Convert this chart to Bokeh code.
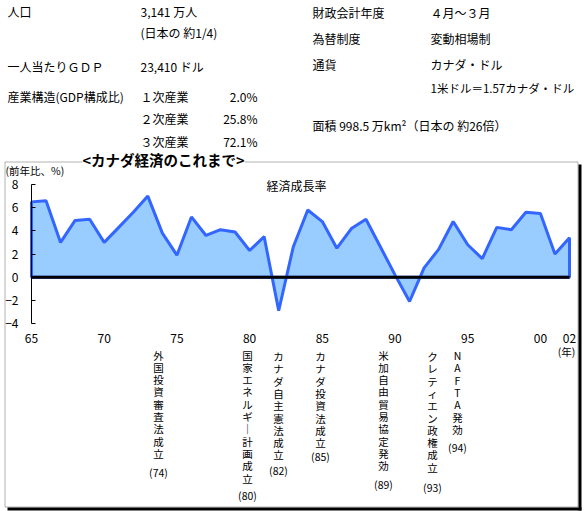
from bokeh.plotting import figure
from bokeh.models import Label, BoxAnnotation, FixedTicker, LinearAxis, Range1d
from bokeh.embed import file_html
from bokeh.resources import INLINE

# ---------------- data ----------------
years = list(range(1965, 2003))
growth = [6.5, 6.6, 3.0, 4.9, 5.0,
          3.0, 4.3, 5.6, 7.0, 3.8,
          1.9, 5.2, 3.6, 4.1, 3.9,
          2.3, 3.5, -2.9, 2.6, 5.8,
          4.8, 2.5, 4.2, 5.0, 2.6,
          0.2, -2.1, 0.8, 2.4, 4.8,
          2.8, 1.6, 4.3, 4.1, 5.6,
          5.5, 2.0, 3.4]
y_ticks = [-4, -2, 0, 2, 4, 6, 8]
x_ticks = [1965, 1970, 1975, 1980, 1985, 1990, 1995, 2000, 2002]
x_tick_labels = ["65", "70", "75", "80", "85", "90", "95", "00", "02"]

events = ["外国投資審査法成立", "国家エネルギ｜計画成立", "カナダ自主憲法成立",
          "カナダ投資法成立", "米加自由貿易協定発効", "クレティエン政権成立",
          "NAFTA発効"]
event_years = ["(74)", "(80)", "(82)", "(85)", "(89)", "(93)", "(94)"]

FONT = "Noto Sans CJK JP"
W, H = 584, 511
# chart area in canvas pixels
FL, FR, FT, FB = 31.0, 569.0, 184.0, 323.0
YMIN, YMAX = y_ticks[0], y_ticks[-1]
x_per_px = (years[-1] - years[0]) / (FR - FL)
y_per_px = (YMAX - YMIN) / (FB - FT)


def DX(r):
    return years[0] + (r - FL) * x_per_px


def DY(r):
    return YMAX - (r - FT) * y_per_px


p = figure(width=W, height=H, output_backend="svg", toolbar_location=None,
           tools="", x_axis_location=None, y_axis_location=None,
           min_border=0)
p.x_range = Range1d(years[0] - FL * x_per_px, years[-1] + (W - FR) * x_per_px)
p.y_range = Range1d(YMIN - (H - FB) * y_per_px, YMAX + FT * y_per_px)
p.outline_line_color = None
p.grid.visible = False
p.background_fill_color = "white"
p.border_fill_color = "white"

# frame box + shadow
p.add_layout(BoxAnnotation(left=DX(4.5), right=DX(577.5), top=DY(161.5), bottom=DY(506.5),
                           fill_alpha=0, line_color="black", line_width=1, level="underlay"))
p.add_layout(BoxAnnotation(left=DX(578), right=DX(581), top=DY(164), bottom=DY(510),
                           fill_color="black", fill_alpha=1, line_color=None, level="underlay"))
p.add_layout(BoxAnnotation(left=DX(7), right=DX(581), top=DY(507), bottom=DY(510),
                           fill_color="black", fill_alpha=1, line_color=None, level="underlay"))

# area
xs = [years[0]] + years + [years[-1]]
ys = [0] + growth + [0]
p.patch(xs, ys, fill_color="#99CCFF", line_color="#3366FF", line_width=3)
p.line([years[0], years[-1]], [0, 0], line_color="black", line_width=3)

# axes
ya = LinearAxis(fixed_location=years[0], bounds=(YMIN, YMAX))
ya.ticker = FixedTicker(ticks=y_ticks)
ya.major_tick_in = 4
ya.major_tick_out = 0
ya.minor_tick_line_color = None
ya.major_label_standoff = 13
ya.major_label_text_font = FONT
ya.major_label_text_font_size = "12px"
ya.major_label_text_color = "black"
ya.axis_line_color = "black"
ya.major_tick_line_color = "black"
p.add_layout(ya, "left")

xa = LinearAxis(fixed_location=YMIN)
xa.ticker = FixedTicker(ticks=x_ticks)
xa.major_label_overrides = {t: l for t, l in zip(x_ticks, x_tick_labels)}
xa.axis_line_color = None
xa.major_tick_line_color = None
xa.minor_tick_line_color = None
xa.major_label_standoff = 4
xa.major_label_text_font = FONT
xa.major_label_text_font_size = "12px"
xa.major_label_text_color = "black"
p.add_layout(xa, "below")


def lab(text, rx, ry, size=12, align="left", baseline="middle", bold=False,
        bg=None, pad=0):
    kw = {}
    if bg:
        kw["background_fill_color"] = bg
    p.add_layout(Label(x=DX(rx), y=DY(ry), text=text, text_font=FONT,
                       text_font_size=f"{size}px", text_align=align,
                       text_baseline=baseline, text_color="black",
                       text_font_style="bold" if bold else "normal",
                       padding=pad, **kw))


# chart title (drawn first so its white background only hides the box line)
lab("<カナダ経済のこれまで>", 163, 159, size=14.5, align="center", bold=True,
    bg="white", pad=(0, 6))

# top info block
lab("人口", 7, 11)
lab("3,141 万人", 140, 11)
lab("(日本の 約1/4)", 140, 32)
lab("一人当たりＧＤＰ", 7, 66)
lab("23,410 ドル", 140, 66)
lab("産業構造(GDP構成比)", 7, 96)
lab("１次産業", 140, 96)
lab("２次産業", 140, 118)
lab("３次産業", 140, 141)
lab("2.0%", 257, 96, align="right")
lab("25.8%", 257, 118, align="right")
lab("72.1%", 257, 141, align="right")
lab("財政会計年度", 312, 12)
lab("４月～３月", 430, 12)
lab("為替制度", 312, 38)
lab("変動相場制", 430, 38)
lab("通貨", 312, 64)
lab("カナダ・ドル", 430, 64)
lab("1米ドル＝1.57カナダ・ドル", 430, 87, size=11.5)
lab("面積 998.5 万km²（日本の 約26倍）", 312, 125)

# chart texts
lab("(前年比、%)", 5, 170, size=10.5)
lab("経済成長率", 296, 185, size=12, align="center")
lab("(年)", 566, 351, size=10.5, align="center")

ev_x = [158, 247, 278, 320, 383, 432, 457]
ev_top = [354.5, 354.5, 356, 356, 354.5, 356, 355]
ev_par_y = [472, 495, 470, 456, 484, 487, 447]
PITCH = 12.3
for t, yl, ex, et, ey in zip(events, event_years, ev_x, ev_top, ev_par_y):
    for i, ch in enumerate(t):
        lab(ch, ex, et + i * PITCH, size=10.5, align="center")
    lab(yl, ex, ey, size=10.5, align="center")

open("out.html", "w").write(file_html(p, INLINE))
